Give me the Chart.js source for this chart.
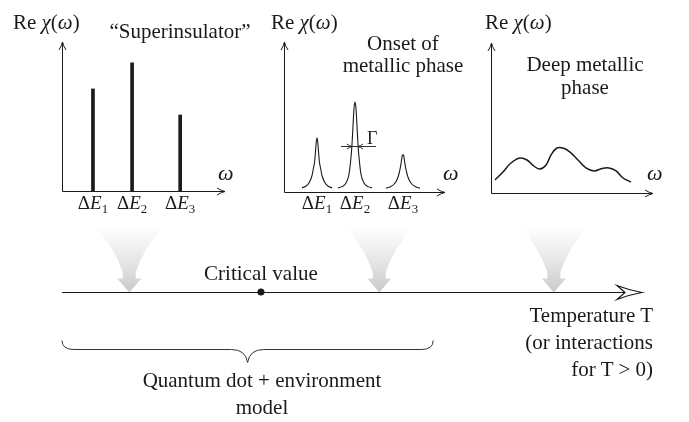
<!DOCTYPE html>
<html>
<head>
<meta charset="utf-8">
<script src="https://cdn.jsdelivr.net/npm/chart.js@4.4.1/dist/chart.umd.min.js"></script>
<style>
  html, body { margin: 0; padding: 0; background: #fff; }
  #wrap { position: relative; width: 689px; height: 422px; overflow: hidden;
          font-family: "Liberation Serif", "DejaVu Serif", serif; color: #1a1a1a; }
  #wrap canvas { position: absolute; }
  .t { position: absolute; font-size: 21px; line-height: 24px; white-space: nowrap; }
  .t i { font-style: italic; }
  .t sub { font-size: 0.68em; vertical-align: -0.3em; line-height: 0; }
</style>
</head>
<body>
<div id="wrap">
  <canvas id="insulator" width="230" height="220" style="left:0;top:0"></canvas>
  <canvas id="onset" width="230" height="220" style="left:230px;top:0"></canvas>
  <canvas id="deep" width="229" height="220" style="left:460px;top:0"></canvas>
  <canvas id="timeline" width="689" height="207" style="left:0;top:215px"></canvas>
</div>
<script>
'use strict';

// --- data (x in 0..10 units, y in 0..1 units) ---
const levelLabels = ['1', '2', '3'];

// "Superinsulator": delta peaks
const insulatorE = [1.9, 4.3, 7.25];
const insulatorHeights = [0.685, 0.86, 0.51];

// Onset of metallic phase: broadened peaks
const onsetE = [2.05, 4.41, 7.39];
const peak1X = [1.12, 1.37, 1.55, 1.74, 1.83, 1.90, 1.95, 2.00, 2.05, 2.10, 2.15, 2.20, 2.27, 2.36, 2.55, 2.73, 2.98];
const peak1Y = [0.027, 0.04, 0.06, 0.11, 0.16, 0.20, 0.26, 0.33, 0.36, 0.33, 0.26, 0.20, 0.16, 0.11, 0.06, 0.04, 0.027];
const peak2X = [3.35, 3.60, 3.85, 4.04, 4.16, 4.22, 4.29, 4.35, 4.41, 4.47, 4.53, 4.60, 4.66, 4.78, 4.97, 5.22, 5.47];
const peak2Y = [0.027, 0.036, 0.06, 0.12, 0.23, 0.31, 0.45, 0.56, 0.60, 0.56, 0.45, 0.31, 0.23, 0.12, 0.06, 0.036, 0.027];
const peak3X = [6.33, 6.61, 6.86, 7.05, 7.16, 7.23, 7.29, 7.34, 7.39, 7.44, 7.49, 7.55, 7.62, 7.73, 7.92, 8.17, 8.45];
const peak3Y = [0.025, 0.035, 0.055, 0.09, 0.13, 0.165, 0.205, 0.24, 0.25, 0.24, 0.205, 0.165, 0.13, 0.09, 0.055, 0.035, 0.025];
const gammaHalf = 0.19;     // half width at the Γ marker
const gammaLevel = 0.31;
const gammaBar = [3.54, 5.71];

// Deep metallic phase: smooth continuum
const deepX = [0.25, 0.74, 1.23, 1.79, 2.22, 2.65, 3.02, 3.4, 3.7, 4.07, 4.44, 4.88, 5.37, 5.86, 6.36, 6.85, 7.28, 7.72, 8.15, 8.64];
const deepY = [0.087, 0.14, 0.2, 0.233, 0.22, 0.18, 0.16, 0.187, 0.253, 0.3, 0.3, 0.273, 0.22, 0.167, 0.147, 0.163, 0.167, 0.147, 0.1, 0.073];

// Temperature axis (0..1)
const criticalT = 0.343;
const phaseT = [0.116, 0.547, 0.848];
const modelRange = [0, 0.64];

const INK = '#1a1a1a';
const wrap = document.getElementById('wrap');

function pts(xs, ys) { return xs.map((x, i) => ({ x: x, y: ys[i] })); }

// small open arrow head, pointing along angle
function head(ctx, x, y, angle, len, half) {
  ctx.save();
  ctx.translate(x, y);
  ctx.rotate(angle);
  ctx.beginPath();
  ctx.moveTo(-len, -half);
  ctx.quadraticCurveTo(-len * 0.45, -half * 0.2, 0, 0);
  ctx.quadraticCurveTo(-len * 0.45, half * 0.2, -len, half);
  ctx.stroke();
  ctx.restore();
}

const axesPlugin = {
  id: 'axes',
  afterDatasetsDraw(chart) {
    const { ctx, chartArea: a } = chart;
    const l = Math.round(a.left) + 0.5, b = Math.round(a.bottom) + 0.5;
    ctx.save();
    ctx.strokeStyle = INK;
    ctx.lineWidth = 1;
    ctx.beginPath();
    ctx.moveTo(l, a.top);
    ctx.lineTo(l, b);
    ctx.lineTo(a.right, b);
    ctx.stroke();
    head(ctx, l, a.top, -Math.PI / 2, 8, 3.5);
    head(ctx, a.right, b, 0, 8, 3.5);
    ctx.restore();
  }
};

const gammaPlugin = {
  id: 'gamma',
  afterDatasetsDraw(chart) {
    const { ctx, scales: { x, y } } = chart;
    const gy = Math.round(y.getPixelForValue(gammaLevel)) + 0.5;
    ctx.save();
    ctx.strokeStyle = INK;
    ctx.lineWidth = 0.9;
    ctx.beginPath();
    ctx.moveTo(x.getPixelForValue(gammaBar[0]), gy);
    ctx.lineTo(x.getPixelForValue(gammaBar[1]), gy);
    ctx.stroke();
    head(ctx, x.getPixelForValue(onsetE[1] - gammaHalf), gy, 0, 5, 2.5);
    head(ctx, x.getPixelForValue(onsetE[1] + gammaHalf), gy, Math.PI, 5, 2.5);
    ctx.restore();
  }
};

function funnel(ctx, tx, ty) {
  const g = ctx.createLinearGradient(0, ty - 66, 0, ty);
  g.addColorStop(0, '#ffffff');
  g.addColorStop(0.35, '#efefef');
  g.addColorStop(0.7, '#dcdcdc');
  g.addColorStop(1, '#c9c9c9');
  ctx.fillStyle = g;
  ctx.beginPath();
  ctx.moveTo(tx, ty);
  ctx.lineTo(tx - 12, ty - 14);
  ctx.lineTo(tx - 6.5, ty - 14);
  ctx.lineTo(tx - 6.5, ty - 20);
  ctx.quadraticCurveTo(tx - 14, ty - 44, tx - 34, ty - 66);
  ctx.lineTo(tx + 34, ty - 66);
  ctx.quadraticCurveTo(tx + 14, ty - 44, tx + 6.5, ty - 20);
  ctx.lineTo(tx + 6.5, ty - 14);
  ctx.lineTo(tx + 12, ty - 14);
  ctx.closePath();
  ctx.fill();
}

function brace(ctx, x0, x1, y) {
  const xc = (x0 + x1) / 2, h = 9, d = 13;
  ctx.beginPath();
  ctx.moveTo(x0, y);
  ctx.quadraticCurveTo(x0, y + h, x0 + 12, y + h);
  ctx.lineTo(xc - 16, y + h);
  ctx.quadraticCurveTo(xc - 2, y + h, xc, y + h + d);
  ctx.quadraticCurveTo(xc + 2, y + h, xc + 16, y + h);
  ctx.lineTo(x1 - 12, y + h);
  ctx.quadraticCurveTo(x1, y + h, x1, y);
  ctx.stroke();
}

const timelinePlugin = {
  id: 'timeline',
  beforeDatasetsDraw(chart) {
    const { ctx, chartArea: a, scales: { x } } = chart;
    const ly = Math.round(a.bottom) + 0.5;
    ctx.save();
    phaseT.forEach(t => funnel(ctx, x.getPixelForValue(t), ly));
    ctx.strokeStyle = INK;
    ctx.lineWidth = 1.2;
    ctx.beginPath();
    ctx.moveTo(a.left, ly);
    ctx.lineTo(a.right - 16, ly);
    ctx.stroke();
    // hollow stealth head
    ctx.save();
    ctx.translate(a.right, ly);
    ctx.beginPath();
    ctx.moveTo(0, 0);
    ctx.quadraticCurveTo(-12, -2, -25, -7);
    ctx.lineTo(-17, 0);
    ctx.lineTo(-25, 7);
    ctx.quadraticCurveTo(-12, 2, 0, 0);
    ctx.closePath();
    ctx.fillStyle = '#fff';
    ctx.fill();
    ctx.lineWidth = 1.2;
    ctx.stroke();
    ctx.restore();
    ctx.strokeStyle = '#333';
    ctx.lineWidth = 1;
    brace(ctx, x.getPixelForValue(modelRange[0]), x.getPixelForValue(modelRange[1]), ly + 48);
    ctx.restore();
  }
};

const common = {
  responsive: false,
  animation: false,
  devicePixelRatio: 1,
  events: [],
  plugins: { legend: { display: false }, tooltip: { enabled: false } }
};

function panelScales() {
  return {
    x: { type: 'linear', min: 0, max: 10, offset: false, display: false },
    y: { min: 0, max: 1, display: false }
  };
}

const insulatorChart = new Chart(document.getElementById('insulator'), {
  type: 'bar',
  data: {
    datasets: [{
      data: pts(insulatorE, insulatorHeights),
      backgroundColor: INK,
      borderWidth: 0,
      barThickness: 3
    }]
  },
  options: Object.assign({}, common, {
    layout: { padding: { left: 62, top: 42, right: 5, bottom: 29 } },
    scales: panelScales()
  }),
  plugins: [axesPlugin]
});

function peakSet(xs, ys) {
  return {
    data: pts(xs, ys),
    borderColor: INK,
    borderWidth: 1.1,
    pointRadius: 0,
    fill: false,
    cubicInterpolationMode: 'monotone'
  };
}

const onsetChart = new Chart(document.getElementById('onset'), {
  type: 'line',
  data: { datasets: [peakSet(peak1X, peak1Y), peakSet(peak2X, peak2Y), peakSet(peak3X, peak3Y)] },
  options: Object.assign({}, common, {
    layout: { padding: { left: 54, top: 42, right: 15, bottom: 28 } },
    scales: panelScales()
  }),
  plugins: [axesPlugin, gammaPlugin]
});

const deepChart = new Chart(document.getElementById('deep'), {
  type: 'line',
  data: {
    datasets: [{
      data: pts(deepX, deepY),
      borderColor: INK,
      borderWidth: 1.5,
      pointRadius: 0,
      fill: false,
      tension: 0.4
    }]
  },
  options: Object.assign({}, common, {
    layout: { padding: { left: 31, top: 43, right: 36, bottom: 27 } },
    scales: panelScales()
  }),
  plugins: [axesPlugin]
});

const timelineChart = new Chart(document.getElementById('timeline'), {
  type: 'scatter',
  data: {
    datasets: [{
      data: [{ x: criticalT, y: 0 }],
      pointRadius: 3.5,
      pointBackgroundColor: INK,
      pointBorderWidth: 0,
      clip: false
    }]
  },
  options: Object.assign({}, common, {
    layout: { padding: { left: 62, right: 47, top: 10, bottom: 130 } },
    scales: {
      x: { type: 'linear', min: 0, max: 1, display: false },
      y: { min: 0, max: 1, display: false }
    }
  }),
  plugins: [timelinePlugin]
});

// --- text ---
function text(html, x, top, align, style) {
  const d = document.createElement('div');
  d.className = 't';
  d.innerHTML = html;
  d.style.top = top + 'px';
  if (align === 'center') {
    d.style.left = x + 'px';
    d.style.transform = 'translateX(-50%)';
    d.style.textAlign = 'center';
  } else if (align === 'right') {
    d.style.right = (689 - x) + 'px';
    d.style.textAlign = 'right';
  } else {
    d.style.left = x + 'px';
  }
  if (style) Object.assign(d.style, style);
  wrap.appendChild(d);
  return d;
}

const reChi = 'Re <i>χ</i>(<i>ω</i>)';
[13, 271, 485].forEach(x => text(reChi, x, 10));
[218, 443, 647].forEach(x => text('<i>ω</i>', x, 161, 'left', { fontSize: '22px' }));

text('“Superinsulator”', 180, 19, 'center');
text('Onset of<br>metallic phase', 403, 32, 'center', { lineHeight: '22px' });
text('Deep metallic<br>phase', 585, 53, 'center', { lineHeight: '23px' });
text('Γ', 367, 128, 'left', { fontSize: '18px', lineHeight: '20px' });

function levelText(chart, left, energies) {
  energies.forEach((e, i) => {
    const px = left + chart.scales.x.getPixelForValue(e);
    text('Δ<i>E</i><sub>' + levelLabels[i] + '</sub>', px, 192, 'center',
      { fontSize: '19px', lineHeight: '22px' });
  });
}
levelText(insulatorChart, 0, insulatorE);
levelText(onsetChart, 230, onsetE);

text('Critical value', timelineChart.scales.x.getPixelForValue(criticalT), 261, 'center');
text('Temperature T<br>(or interactions<br>for T &gt; 0)', 653, 302, 'right', { lineHeight: '27px' });
text('Quantum dot + environment<br>model', 262, 367, 'center', { lineHeight: '27px' });
</script>
</body>
</html>
